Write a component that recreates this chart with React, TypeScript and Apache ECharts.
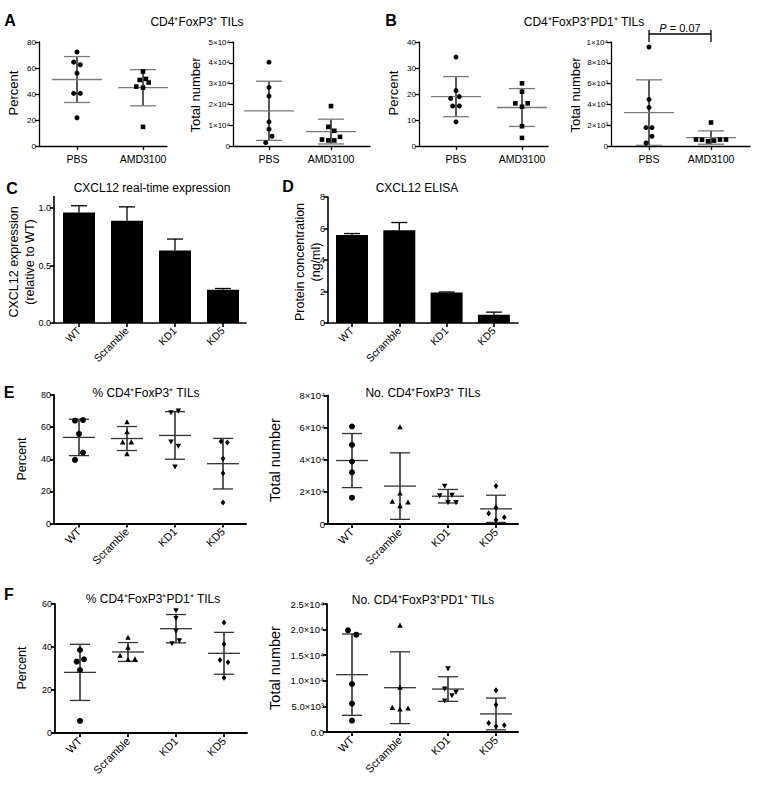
import React, { useEffect, useRef } from 'react';
import * as echarts from 'echarts';

const FONT = '"Liberation Sans", Arial, Helvetica, sans-serif';

// ---------- categories ----------
const groupsAB = ['PBS', 'AMD3100'];
const groupsKD = ['WT', 'Scramble', 'KD1', 'KD5'];

// ---------- A: CD4+FoxP3+ TILs ----------
const aPctPBS = [72.3, 64.5, 62.5, 56.0, 40.5, 40.5, 21.7];
const aPctAMD = [57.3, 50.8, 51.6, 48.8, 45.7, 44.9, 14.7];
const aNumPBS = [40300, 28200, 24000, 11600, 8100, 4700, 1600];
const aNumAMD = [19200, 9200, 7300, 4400, 3100, 2700, 2700];
// ---------- B: CD4+FoxP3+PD1+ TILs ----------
const bPctPBS = [34.2, 21.3, 18.3, 19.0, 15.4, 15.4, 9.3];
const bPctAMD = [24.1, 20.9, 16.4, 16.4, 15.1, 7.6, 3.1];
const bNumPBS = [9520, 4480, 3710, 1770, 1770, 940, 290];
const bNumAMD = [2260, 620, 600, 450, 520, 620, 620];
const bPValue = 'P';
const bPText = ' = 0.07';
// ---------- C / D: bars ----------
const cExpr = [0.96, 0.89, 0.63, 0.29];
const cErr = [0.06, 0.12, 0.1, 0.01];
const dConc = [5.59, 5.89, 1.94, 0.53];
const dErr = [0.09, 0.49, 0.03, 0.16];
// ---------- E ----------
const ePctWT = [64.0, 64.4, 55.8, 44.2, 39.6];
const ePctScr = [63.1, 56.9, 50.6, 50.6, 43.3];
const ePctKD1 = [70.2, 69.2, 51.0, 48.3, 35.4];
const ePctKD5 = [51.0, 50.4, 40.4, 31.3, 13.1];
const eNumWT = [60700, 49300, 38900, 32200, 16400];
const eNumScr = [60300, 19100, 13900, 11200, 13500];
const eNumKD1 = [23700, 18100, 17700, 13500, 13500];
const eNumKD5 = [23700, 10200, 6600, 4200, 2500];
// ---------- F ----------
const fPctWT = [38.6, 33.2, 34.3, 29.3, 5.6];
const fPctScr = [44.4, 39.7, 36.0, 34.0, 34.3];
const fPctKD1 = [57.0, 53.4, 47.5, 43.0, 41.7];
const fPctKD5 = [51.4, 41.3, 34.0, 32.9, 25.7];
const fNumWT = [19860, 19000, 9370, 5530, 2210];
const fNumScr = [20800, 8660, 4750, 4430, 4620];
const fNumKD1 = [12400, 8460, 7160, 7800, 6120];
const fNumKD5 = [8140, 5340, 1760, 1100, 1300];

// ---------- horizontal spread of dots (px), as in the picture ----------
const aPctPBSJ = [0, -3.3, 3.3, 0, -3.3, 3.3, 0];
const aPctAMDJ = [0, -3.3, 3, 5.7, -6.7, 0, 0];
const aNumPBSJ = [0, 0, 0, 0, 0, 3, -3.3];
const aNumAMDJ = [0, -2.7, 3.3, 9, -9, -2.7, 3.3];
const bPctPBSJ = [0, 0, -5.3, 3.3, -3.3, 3.3, 0];
const bPctAMDJ = [0, 0, -6.7, 5.7, 0, 0, 0];
const bNumPBSJ = [0, 0, 0, -3, 3, 3, -3];
const bNumAMDJ = [0, -15, -9, -3, 3, 9, 15];
const ePctWTJ = [-4, 4, 0, 4, -4];
const ePctScrJ = [0, 0, -4.3, 4.3, 0];
const ePctKD1J = [3.3, -4, -4, 3.3, 0];
const ePctKD5J = [-2, 4.3, 0, 0, 0];
const eNumWTJ = [0, 0, 0, 0, 0];
const eNumScrJ = [0, 0, -7.7, 0, 8];
const eNumKD1J = [-3.3, 4, -8.3, 0, 8];
const eNumKD5J = [0, 0, -7.3, 8.3, 0];
const fPctWTJ = [0, -3.3, 4, 0, 0];
const fPctScrJ = [0, 0, -8, 0, 7];
const fPctKD1J = [0, 0, 0, 3.3, -4];
const fPctKD5J = [0, 0, -4, 4, 0];
const fNumWTJ = [-4, 4.3, 0, 0, 0];
const fNumScrJ = [0, 0, -7.7, 0, 8];
const fNumKD1J = [0, -3.3, 4, 8, -3.3];
const fNumKD5J = [0, 0, -7.3, 0, 8.3];

// ---------- tick values / labels ----------
const tA1 = [0, 20, 40, 60, 80];
const lA1 = ['0', '20', '40', '60', '80'];
const tA2 = [0, 10000, 20000, 30000, 40000, 50000];
const lA2 = ['0', '1×10⁴', '2×10⁴', '3×10⁴', '4×10⁴', '5×10⁴'];
const tB1 = [0, 10, 20, 30, 40];
const lB1 = ['0', '10', '20', '30', '40'];
const tB2 = [0, 2000, 4000, 6000, 8000, 10000];
const lB2 = ['0', '2×10³', '4×10³', '6×10³', '8×10³', '1×10⁴'];
const tC = [0, 0.5, 1.0];
const lC = ['0.0', '0.5', '1.0'];
const tD = [0, 2, 4, 6, 8];
const lD = ['0', '2', '4', '6', '8'];
const tE1 = [0, 20, 40, 60, 80];
const lE1 = ['0', '20', '40', '60', '80'];
const tE2 = [0, 20000, 40000, 60000, 80000];
const lE2 = ['0', '2×10⁴', '4×10⁴', '6×10⁴', '8×10⁴'];
const tF1 = [0, 20, 40, 60];
const lF1 = ['0', '20', '40', '60'];
const tF2 = [0, 5000, 10000, 15000, 20000, 25000];
const lF2 = ['0.0', '5.0×10³', '1.0×10⁴', '1.5×10⁴', '2.0×10⁴', '2.5×10⁴'];

// ---------- helpers ----------
const mean = (a: number[]) => a.reduce((s, v) => s + v, 0) / a.length;
const sd = (a: number[]) => {
  const m = mean(a);
  return Math.sqrt(a.reduce((s, v) => s + (v - m) * (v - m), 0) / (a.length - 1));
};

type Layout = {
  left: number; right: number; top: number; bottom: number; c0: number; step: number;
  yMax: number; ticks: number[]; labels: string[]; cats: string[]; rotate: number;
  tickFont: number; catFont: number; axisW: number;
};

const layouts: Layout[] = [
  { left: 39, right: 167, top: 42, bottom: 146, c0: 77, step: 66, yMax: 80, ticks: tA1, labels: lA1, cats: groupsAB, rotate: 0, tickFont: 8, catFont: 10.5, axisW: 1.3 },
  { left: 233, right: 370, top: 42, bottom: 146, c0: 269, step: 62, yMax: 50000, ticks: tA2, labels: lA2, cats: groupsAB, rotate: 0, tickFont: 8, catFont: 10.5, axisW: 1.3 },
  { left: 419, right: 548, top: 42, bottom: 146, c0: 456, step: 66, yMax: 40, ticks: tB1, labels: lB1, cats: groupsAB, rotate: 0, tickFont: 8, catFont: 10.5, axisW: 1.3 },
  { left: 611, right: 750, top: 42, bottom: 146, c0: 649, step: 62, yMax: 10000, ticks: tB2, labels: lB2, cats: groupsAB, rotate: 0, tickFont: 8, catFont: 10.5, axisW: 1.3 },
  { left: 54, right: 246, top: 196.5, bottom: 323, c0: 79, step: 48, yMax: 1.1, ticks: tC, labels: lC, cats: groupsKD, rotate: 45, tickFont: 9, catFont: 10.5, axisW: 1.6 },
  { left: 328, right: 518, top: 197, bottom: 323, c0: 352, step: 47.3, yMax: 8, ticks: tD, labels: lD, cats: groupsKD, rotate: 45, tickFont: 9, catFont: 10.5, axisW: 1.6 },
  { left: 54, right: 246, top: 395, bottom: 523.5, c0: 79, step: 48, yMax: 80, ticks: tE1, labels: lE1, cats: groupsKD, rotate: 45, tickFont: 9, catFont: 11, axisW: 1.8 },
  { left: 328, right: 518, top: 395.5, bottom: 524, c0: 352, step: 48, yMax: 80000, ticks: tE2, labels: lE2, cats: groupsKD, rotate: 45, tickFont: 9.5, catFont: 11, axisW: 1.8 },
  { left: 55, right: 247, top: 604, bottom: 733, c0: 80, step: 48, yMax: 60, ticks: tF1, labels: lF1, cats: groupsKD, rotate: 45, tickFont: 9, catFont: 11, axisW: 1.8 },
  { left: 327, right: 518, top: 604, bottom: 732, c0: 352, step: 48, yMax: 25000, ticks: tF2, labels: lF2, cats: groupsKD, rotate: 45, tickFont: 9.5, catFont: 11, axisW: 1.8 },
];

type Dots = { panel: number; cat: number; values: number[]; jitter: number[]; shape: string; size: number };

const dotGroups: Dots[] = [
  { panel: 0, cat: 0, values: aPctPBS, jitter: aPctPBSJ, shape: 'circle', size: 5 },
  { panel: 0, cat: 1, values: aPctAMD, jitter: aPctAMDJ, shape: 'square', size: 4.6 },
  { panel: 1, cat: 0, values: aNumPBS, jitter: aNumPBSJ, shape: 'circle', size: 5 },
  { panel: 1, cat: 1, values: aNumAMD, jitter: aNumAMDJ, shape: 'square', size: 4.6 },
  { panel: 2, cat: 0, values: bPctPBS, jitter: bPctPBSJ, shape: 'circle', size: 5 },
  { panel: 2, cat: 1, values: bPctAMD, jitter: bPctAMDJ, shape: 'square', size: 4.6 },
  { panel: 3, cat: 0, values: bNumPBS, jitter: bNumPBSJ, shape: 'circle', size: 5 },
  { panel: 3, cat: 1, values: bNumAMD, jitter: bNumAMDJ, shape: 'square', size: 4.6 },
  { panel: 6, cat: 0, values: ePctWT, jitter: ePctWTJ, shape: 'circle', size: 6 },
  { panel: 6, cat: 1, values: ePctScr, jitter: ePctScrJ, shape: 'triangle', size: 5.5 },
  { panel: 6, cat: 2, values: ePctKD1, jitter: ePctKD1J, shape: 'triangleDown', size: 5.5 },
  { panel: 6, cat: 3, values: ePctKD5, jitter: ePctKD5J, shape: 'diamond', size: 5.5 },
  { panel: 7, cat: 0, values: eNumWT, jitter: eNumWTJ, shape: 'circle', size: 6 },
  { panel: 7, cat: 1, values: eNumScr, jitter: eNumScrJ, shape: 'triangle', size: 5.5 },
  { panel: 7, cat: 2, values: eNumKD1, jitter: eNumKD1J, shape: 'triangleDown', size: 5.5 },
  { panel: 7, cat: 3, values: eNumKD5, jitter: eNumKD5J, shape: 'diamond', size: 5.5 },
  { panel: 8, cat: 0, values: fPctWT, jitter: fPctWTJ, shape: 'circle', size: 6 },
  { panel: 8, cat: 1, values: fPctScr, jitter: fPctScrJ, shape: 'triangle', size: 5.5 },
  { panel: 8, cat: 2, values: fPctKD1, jitter: fPctKD1J, shape: 'triangleDown', size: 5.5 },
  { panel: 8, cat: 3, values: fPctKD5, jitter: fPctKD5J, shape: 'diamond', size: 5.5 },
  { panel: 9, cat: 0, values: fNumWT, jitter: fNumWTJ, shape: 'circle', size: 6 },
  { panel: 9, cat: 1, values: fNumScr, jitter: fNumScrJ, shape: 'triangle', size: 5.5 },
  { panel: 9, cat: 2, values: fNumKD1, jitter: fNumKD1J, shape: 'triangleDown', size: 5.5 },
  { panel: 9, cat: 3, values: fNumKD5, jitter: fNumKD5J, shape: 'diamond', size: 5.5 },
];

function dotRender(shape: string, size: number) {
  return (_p: any, api: any) => {
    const c = api.coord([api.value(0), api.value(1)]);
    const x = c[0] + api.value(2);
    const y = c[1];
    const h = size / 2;
    const style = { fill: '#000' };
    if (shape === 'circle') return { type: 'circle', shape: { cx: x, cy: y, r: h }, style };
    if (shape === 'square') return { type: 'rect', shape: { x: x - h, y: y - h, width: size, height: size }, style };
    if (shape === 'triangle')
      return { type: 'polygon', shape: { points: [[x, y - h * 1.05], [x + h, y + h * 0.8], [x - h, y + h * 0.8]] }, style };
    if (shape === 'triangleDown')
      return { type: 'polygon', shape: { points: [[x, y + h * 1.05], [x + h, y - h * 0.8], [x - h, y - h * 0.8]] }, style };
    return { type: 'polygon', shape: { points: [[x, y - h * 1.1], [x + h * 0.85, y], [x, y + h * 1.1], [x - h * 0.85, y]] }, style };
  };
}

function meanSdRender(meanHalf: number, capHalf: number, color: string, lw: number) {
  return (_p: any, api: any) => {
    const cat = api.value(0);
    const m = api.value(1);
    const s = api.value(2);
    const c = api.coord([cat, m]);
    const hi = api.coord([cat, m + s]);
    const lo = api.coord([cat, Math.max(0, m - s)]);
    const ln = (x1: number, y1: number, x2: number, y2: number, stroke: string) => ({
      type: 'line', shape: { x1, y1, x2, y2 }, style: { stroke, lineWidth: lw },
    });
    return {
      type: 'group',
      children: [
        ln(c[0], hi[1], c[0], lo[1], '#000'),
        ln(c[0] - meanHalf, c[1], c[0] + meanHalf, c[1], color),
        ln(c[0] - capHalf, hi[1], c[0] + capHalf, hi[1], color),
        ln(c[0] - capHalf, lo[1], c[0] + capHalf, lo[1], color),
      ],
    };
  };
}

function barRender(_p: any, api: any) {
  const cat = api.value(0);
  const v = api.value(1);
  const e = api.value(2);
  const base = api.coord([cat, 0]);
  const top = api.coord([cat, v]);
  const et = api.coord([cat, v + e]);
  return {
    type: 'group',
    children: [
      { type: 'rect', shape: { x: base[0] - 16, y: top[1], width: 32, height: base[1] - top[1] }, style: { fill: '#000' } },
      { type: 'line', shape: { x1: base[0], y1: top[1], x2: base[0], y2: et[1] }, style: { stroke: '#000', lineWidth: 1.3 } },
      { type: 'line', shape: { x1: base[0] - 8, y1: et[1], x2: base[0] + 8, y2: et[1] }, style: { stroke: '#000', lineWidth: 1.3 } },
    ],
  };
}

function bracketRender(_p: any, api: any) {
  const a = api.coord([0, api.value(1)]);
  const b = api.coord([1, api.value(1)]);
  const y = a[1] - 8;
  const st = { stroke: '#000', lineWidth: 1.3 };
  return {
    type: 'group',
    children: [
      { type: 'line', shape: { x1: a[0], y1: y, x2: b[0], y2: y }, style: st },
      { type: 'line', shape: { x1: a[0], y1: y - 4, x2: a[0], y2: y + 8 }, style: st },
      { type: 'line', shape: { x1: b[0], y1: y - 4, x2: b[0], y2: y + 8 }, style: st },
      {
        type: 'text',
        x: (a[0] + b[0]) / 2,
        y: y - 1,
        style: {
          text: '{i|' + bPValue + '}' + bPText,
          rich: { i: { fontStyle: 'italic', fontSize: 11, fontFamily: FONT, fill: '#000' } },
          fontSize: 11, fontFamily: FONT, fill: '#000', align: 'center', verticalAlign: 'bottom',
        },
      },
    ],
  };
}

function buildOption() {
  const grid: any[] = [];
  const xAxis: any[] = [];
  const yAxis: any[] = [];
  const series: any[] = [];

  layouts.forEach((L, i) => {
    grid.push({ left: L.left, top: L.top, width: L.right - L.left, height: L.bottom - L.top, outerBoundsMode: 'none', containLabel: false });
    const catIdx = L.cats.map((_, k) => k);
    const lineStyle = { color: '#000', width: L.axisW };
    xAxis.push({
      gridIndex: i, type: 'value',
      min: -(L.c0 - L.left) / L.step, max: (L.right - L.c0) / L.step,
      axisLine: { show: true, onZero: false, lineStyle },
      axisTick: { show: true, length: 4, customValues: catIdx, lineStyle: { color: '#000', width: L.axisW } },
      axisLabel: {
        customValues: catIdx,
        formatter: (v: number) => L.cats[Math.round(v)] ?? '',
        rotate: L.rotate, fontSize: L.catFont, fontFamily: FONT, color: '#000', margin: L.rotate ? 6 : 7,
      },
      splitLine: { show: false },
    });
    yAxis.push({
      gridIndex: i, type: 'value', min: 0, max: L.yMax,
      axisLine: { show: true, onZero: false, lineStyle },
      axisTick: { show: true, length: 4, customValues: L.ticks, lineStyle: { color: '#000', width: L.axisW } },
      axisLabel: {
        customValues: L.ticks,
        formatter: (v: number) => {
          const k = L.ticks.findIndex((t) => Math.abs(t - v) < 1e-6 * Math.max(1, L.yMax));
          return k >= 0 ? L.labels[k] : '';
        },
        fontSize: L.tickFont, fontFamily: FONT, color: '#000', margin: 3,
      },
      splitLine: { show: false },
    });
  });

  dotGroups.forEach((g) => {
    const isAB = g.panel < 4;
    series.push({
      type: 'custom', coordinateSystem: 'cartesian2d', xAxisIndex: g.panel, yAxisIndex: g.panel,
      clip: false, silent: true, z: 3,
      encode: { x: 0, y: 1 },
      data: g.values.map((v, k) => [g.cat, v, g.jitter[k]]),
      renderItem: dotRender(g.shape, g.size),
    });
    series.push({
      type: 'custom', coordinateSystem: 'cartesian2d', xAxisIndex: g.panel, yAxisIndex: g.panel,
      clip: false, silent: true, z: 2,
      encode: { x: 0, y: 1 },
      data: [[g.cat, mean(g.values), sd(g.values)]],
      renderItem: isAB ? meanSdRender(25, 13, '#7a7a7a', 1.3) : meanSdRender(16, 10, '#333', 1.3),
    });
  });

  series.push({
    type: 'custom', coordinateSystem: 'cartesian2d', xAxisIndex: 4, yAxisIndex: 4, clip: false, silent: true,
    encode: { x: 0, y: 1 },
    data: cExpr.map((v, k) => [k, v, cErr[k]]), renderItem: barRender,
  });
  series.push({
    type: 'custom', coordinateSystem: 'cartesian2d', xAxisIndex: 5, yAxisIndex: 5, clip: false, silent: true,
    encode: { x: 0, y: 1 },
    data: dConc.map((v, k) => [k, v, dErr[k]]), renderItem: barRender,
  });
  series.push({
    type: 'custom', coordinateSystem: 'cartesian2d', xAxisIndex: 3, yAxisIndex: 3, clip: false, silent: true,
    encode: { x: 0, y: 1 },
    data: [[0, 10000]], renderItem: bracketRender,
  });

  const txt = (text: string, x: number, y: number, size: number, extra: any = {}) => ({
    type: 'text', x, y, rotation: extra.rotation ?? 0, silent: true,
    style: {
      text, fontSize: size, fontFamily: FONT, fontWeight: extra.bold ? 'bold' : 'normal', fill: '#000',
      align: extra.align ?? 'center', verticalAlign: 'middle',
    },
  });
  const R = Math.PI / 2;
  const graphic = [
    txt('A', 10, 20, 16, { bold: true }),
    txt('B', 391, 20, 16, { bold: true }),
    txt('C', 12, 188, 16, { bold: true }),
    txt('D', 288, 186, 16, { bold: true }),
    txt('E', 9, 392, 16, { bold: true }),
    txt('F', 9, 594, 16, { bold: true }),
    txt('CD4⁺FoxP3⁺ TILs', 197, 22, 12),
    txt('CD4⁺FoxP3⁺PD1⁺ TILs', 584, 22, 12),
    txt('CXCL12 real-time expression', 152, 188, 12),
    txt('CXCL12 ELISA', 417, 188, 12),
    txt('% CD4⁺FoxP3⁺ TILs', 146, 393, 12),
    txt('No. CD4⁺FoxP3⁺ TILs', 423, 393, 12),
    txt('% CD4⁺FoxP3⁺PD1⁺ TILs', 153, 599, 12),
    txt('No. CD4⁺FoxP3⁺PD1⁺ TILs', 423, 600, 12),
    txt('Percent', 13, 93, 13, { rotation: R }),
    txt('Total number', 195, 95, 13, { rotation: R }),
    txt('Percent', 393, 93, 13, { rotation: R }),
    txt('Total number', 575, 95, 13, { rotation: R }),
    txt('CXCL12 expression', 14, 262, 12.5, { rotation: R }),
    txt('(relative to WT)', 30, 262, 12.5, { rotation: R }),
    txt('Protein concentration', 300, 262, 12.5, { rotation: R }),
    txt('(ng/ml)', 316, 262, 12.5, { rotation: R }),
    txt('Percent', 22, 459, 12.5, { rotation: R }),
    txt('Total number', 275, 460, 14.5, { rotation: R }),
    txt('Percent', 22, 668, 12.5, { rotation: R }),
    txt('Total number', 275, 668, 14.5, { rotation: R }),
  ];

  return {
    animation: false,
    backgroundColor: '#fff',
    grid, xAxis, yAxis, series,
    graphic: { elements: graphic },
  };
}

export default function App() {
  const ref = useRef<HTMLDivElement>(null);
  useEffect(() => {
    if (!ref.current) return;
    const chart = echarts.init(ref.current, null, { renderer: 'svg' });
    chart.setOption(buildOption() as any);
    return () => chart.dispose();
  }, []);
  return <div ref={ref} style={{ position: 'absolute', left: 0, top: 0, width: 769, height: 788, background: '#fff' }} />;
}
